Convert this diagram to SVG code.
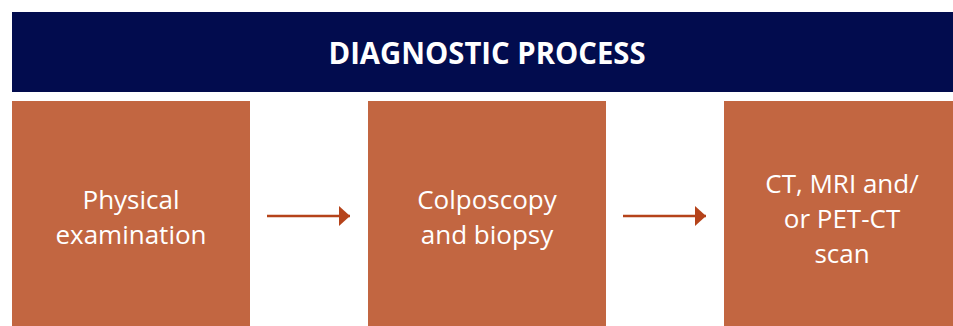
<svg xmlns="http://www.w3.org/2000/svg" width="953" height="326" viewBox="0 0 953 326">
<defs>
<style>
.box{fill:#C26641}
.lbl{font-family:"Open Sans","DejaVu Sans",sans-serif;font-size:26px;fill:#FFFFFF;text-anchor:middle}
.title{font-family:"Open Sans","DejaVu Sans",sans-serif;font-weight:bold;font-size:31px;fill:#FFFFFF;text-anchor:middle}
.conn{stroke:#B5431A;stroke-width:2.5;fill:none}
</style>
<marker id="ah" markerUnits="userSpaceOnUse" markerWidth="12" markerHeight="20" refX="11" refY="10" orient="auto">
<path d="M0,0 L11,10 L0,20 Z" fill="#B5431A"/>
</marker>
</defs>
<rect width="953" height="326" fill="#FFFFFF"/>
<g id="header">
<rect x="12" y="12" width="950" height="80" fill="#020C4E"/>
<text class="title" x="487" y="64" textLength="317" lengthAdjust="spacingAndGlyphs">DIAGNOSTIC PROCESS</text>
</g>
<g id="node1">
<rect class="box" x="12" y="101" width="238" height="225"/>
<text class="lbl" x="131" y="209">Physical</text>
<text class="lbl" x="131" y="244">examination</text>
</g>
<g id="node2">
<rect class="box" x="368" y="101" width="238" height="225"/>
<text class="lbl" x="487" y="209">Colposcopy</text>
<text class="lbl" x="487" y="244">and biopsy</text>
</g>
<g id="node3">
<rect class="box" x="724" y="101" width="238" height="225"/>
<text class="lbl" x="842" y="193">CT, MRI and/</text>
<text class="lbl" x="842" y="228">or PET-CT</text>
<text class="lbl" x="842" y="263">scan</text>
</g>
<g id="connectors">
<line class="conn" x1="267" y1="216" x2="350" y2="216" marker-end="url(#ah)"/>
<line class="conn" x1="623" y1="216" x2="706" y2="216" marker-end="url(#ah)"/>
</g>
</svg>
